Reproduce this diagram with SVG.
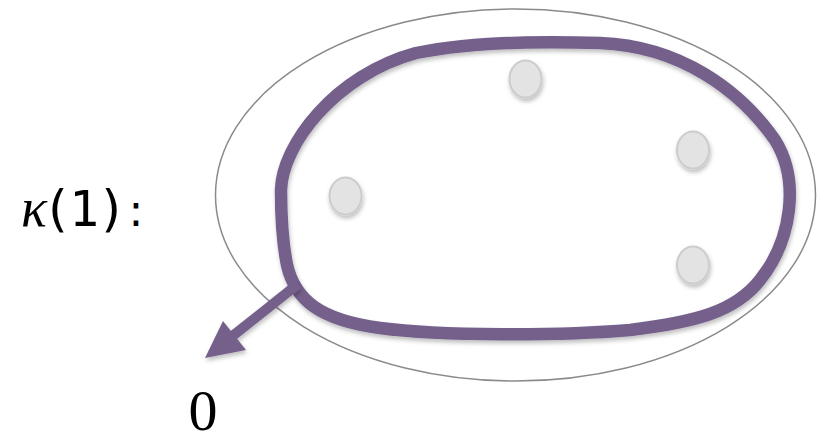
<svg xmlns="http://www.w3.org/2000/svg" width="817" height="440" viewBox="0 0 817 440">
<style>
.dot{fill:#e3e3e3;stroke:#cccccc;stroke-width:2}
.loop{fill:none;stroke:#74608c;stroke-width:12.5;stroke-linejoin:round}
.outer{fill:none;stroke:#8a8a8a;stroke-width:1.5}
.mono{font-family:"DejaVu Sans Mono",monospace;font-size:50px}
</style>
<defs>
<filter id="sh" x="-20%" y="-20%" width="140%" height="140%">
<feDropShadow dx="1" dy="3" stdDeviation="2" flood-color="#000" flood-opacity="0.25"/>
</filter>
</defs>
<rect width="817" height="440" fill="#fff"/>
<g id="outer-set">
<ellipse class="outer" cx="515.5" cy="195" rx="300" ry="186"/>
</g>
<g id="loop">
<path class="loop" filter="url(#sh)" d="M281,190 C282,145 335,75 416,53 C470,42 540,41 600,43 C680,46 740,90 775,140 C800,180 792,240 760,280 C735,312 695,322 630,330 C560,336 440,336 380,328 C320,320 295,300 287,265 C282,240 281,215 281,190 Z"/>
</g>
<g id="dot1"><ellipse class="dot" filter="url(#sh)" cx="525.5" cy="79" rx="16" ry="18.5"/></g>
<g id="dot2"><ellipse class="dot" filter="url(#sh)" cx="693" cy="150" rx="16" ry="18.5"/></g>
<g id="dot3"><ellipse class="dot" filter="url(#sh)" cx="345.5" cy="196" rx="16" ry="18.5"/></g>
<g id="dot4"><ellipse class="dot" filter="url(#sh)" cx="693" cy="265" rx="16" ry="18.5"/></g>
<g id="connectors">
<g filter="url(#sh)">
<line x1="298" y1="284" x2="230" y2="338" stroke="#74608c" stroke-width="10"/>
<polygon points="205,358 223,321 246,350" fill="#74608c"/>
</g>
</g>
<g id="label">
<text y="226" fill="#000" text-anchor="middle"><tspan x="34" font-family="Liberation Serif, serif" font-style="italic" font-size="54">κ</tspan><tspan class="mono" x="57">(</tspan><tspan class="mono" x="84">1</tspan><tspan class="mono" x="112">)</tspan><tspan x="136" font-family="DejaVu Sans, sans-serif" font-size="44">:</tspan></text>
</g>
<g id="zero">
<text x="203" y="430" text-anchor="middle" font-family="Liberation Serif, serif" font-size="58" fill="#000">0</text>
</g>
</svg>
